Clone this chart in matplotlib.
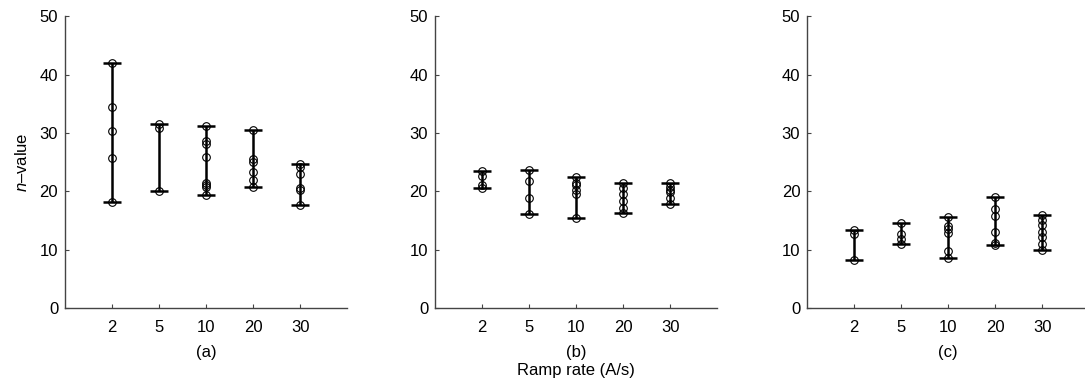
import matplotlib
matplotlib.use("Agg")
import matplotlib.pyplot as plt
import numpy as np

plt.rcParams['font.family'] = ['Liberation Sans', 'DejaVu Sans']
plt.rcParams['mathtext.fontset'] = 'custom'
plt.rcParams['mathtext.it'] = 'Liberation Sans:italic'
plt.rcParams['mathtext.rm'] = 'Liberation Sans'

ramp_rates = ["2", "5", "10", "20", "30"]
panel_labels = ["(a)", "(b)", "(c)"]

# n-values measured at each ramp rate, one list per rate
n_values_a = [
    [41.9, 34.4, 30.3, 25.7, 18.2],
    [31.5, 30.8, 20.0],
    [31.1, 28.6, 28.1, 25.8, 21.5, 21.1, 20.7, 19.3],
    [30.5, 25.5, 25.0, 23.3, 22.0, 20.8],
    [24.6, 24.2, 23.0, 20.5, 20.2, 17.6],
]
n_values_b = [
    [23.5, 22.7, 21.1, 20.5],
    [23.7, 21.8, 18.8, 16.1],
    [22.5, 21.5, 21.0, 20.3, 19.5, 15.5],
    [21.4, 20.5, 19.5, 18.3, 17.2, 16.3],
    [21.5, 20.8, 20.3, 19.8, 18.9, 17.9],
]
n_values_c = [
    [13.3, 12.6, 8.3],
    [14.6, 12.7, 11.8, 11.0],
    [15.6, 14.1, 13.6, 12.9, 9.8, 8.6],
    [19.1, 17.0, 15.8, 13.0, 11.2, 10.8],
    [15.9, 15.1, 14.2, 13.0, 12.2, 10.9, 9.9],
]
panels = [n_values_a, n_values_b, n_values_c]

fig = plt.figure(figsize=(10.85, 3.85), dpi=100)
lefts = [0.06, 0.401, 0.744]
fs = 12

for i, data in enumerate(panels):
    ax = fig.add_axes([lefts[i], 0.2, 0.26, 0.758])
    for j, vals in enumerate(data):
        x = j + 1
        lo, hi = min(vals), max(vals)
        ax.errorbar([x], [(lo + hi) / 2], yerr=[[(hi - lo) / 2], [(hi - lo) / 2]],
                    fmt='none', ecolor='black', elinewidth=1.8, capsize=6.5, capthick=1.8)
        ax.plot([x] * len(vals), vals, 'o', mfc='none', mec='black', ms=5.5, mew=0.8)
    ax.set_xlim(0, 6)
    ax.set_ylim(0, 50)
    ax.set_xticks(range(1, 6))
    ax.set_xticklabels(ramp_rates)
    ax.set_yticks([0, 10, 20, 30, 40, 50])
    ax.tick_params(direction='in', length=3, labelsize=fs, width=0.8, color='#444444')
    ax.tick_params(axis='x', pad=9)
    ax.tick_params(axis='y', pad=5)
    for s in ['top', 'right']:
        ax.spines[s].set_visible(False)
    for s in ['left', 'bottom']:
        ax.spines[s].set_color('#444444')
        ax.spines[s].set_linewidth(1.0)
    ax.set_xlabel(panel_labels[i], fontsize=fs, labelpad=6.5)
    if i == 0:
        ax.set_ylabel(r"$n$–value", fontsize=fs, labelpad=7)
    if i == 1:
        ax.text(0.5, -0.19, "Ramp rate (A/s)", transform=ax.transAxes,
                ha='center', va='top', fontsize=fs)

fig.savefig("out.png", dpi=100)
